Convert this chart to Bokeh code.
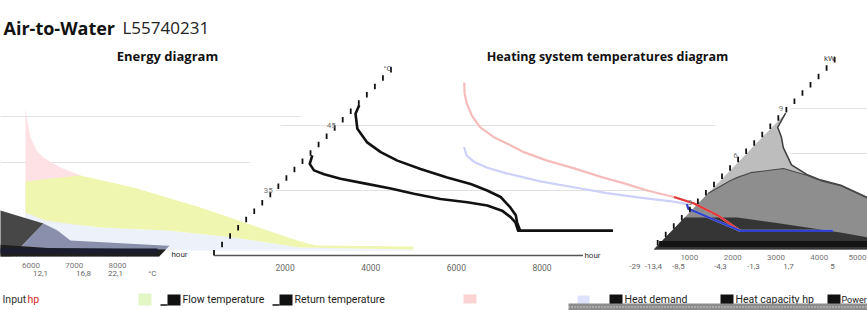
from bokeh.plotting import figure
from bokeh.models import Range1d
from bokeh.embed import file_html
from bokeh.resources import INLINE
from bokeh.core.properties import value

# ---------------- data ----------------
# Heating system temperatures diagram (sorted hours of the year, °C)
flow_hours = [0, 105, 486, 1023, 1560, 2140, 2871, 3684, 4380, 4912, 5375, 5835, 6139, 6330, 6594, 8760]
flow_temp = [48.1, 46.8, 44.5, 42.4, 40.9, 39.6, 38.3, 37.0, 36.0, 35.0, 34.0, 32.4, 31.2, 30.1, 28.8, 28.8]
return_hours = [35, 166, 411, 736, 1222, 1880, 2616, 3273, 4011, 4712, 5253, 5716, 6062, 6291, 6547, 8760]
return_temp = [40.4, 39.1, 38.1, 37.5, 36.8, 36.1, 35.3, 34.5, 33.7, 33.2, 32.7, 31.9, 30.9, 30.1, 28.8, 28.8]
hp_flow_hours = [0, 190, 402, 681, 1016, 1410, 1749, 2171, 2710, 3302, 3897, 4405, 4915, 5482, 5933, 6527, 7174]
hp_flow_temp = [51.6, 49.9, 48.3, 46.5, 44.7, 43.2, 42.2, 40.9, 39.6, 38.4, 37.1, 36.1, 35.0, 34.0, 33.0, 31.2, 28.8]
hp_return_hours = [1061, 1245, 1482, 1803, 2245, 2936, 3605, 4270, 4912, 5548, 5820, 5920, 7174, 8760]
hp_return_temp = [41.7, 40.4, 39.4, 38.5, 37.6, 36.4, 35.5, 34.6, 33.9, 33.3, 32.9, 32.2, 28.8, 28.8]

# Energy diagram (hours, kW)
input_hours = [0, 45, 113, 248, 406, 790, 1242]
input_kw = [9.13, 8.17, 7.21, 6.38, 5.93, 5.30, 4.79]
hp_top_hours = [0, 564, 1242, 2439, 3951, 5464, 6209, 6548, 8760]
hp_top_kw = [4.40, 4.59, 4.79, 4.02, 2.74, 1.28, 0.57, 0.32, 0.26]
hp_base_hours = [0, 452, 948, 1693, 3206, 4696, 6209, 8760]
hp_base_kw = [2.43, 1.91, 1.72, 1.47, 1.28, 0.83, 0.19, 0.06]

# Power diagram (hours, kW)
demand_hours = [0, 130, 425, 716, 1290, 1896, 2309, 2882, 3770, 4068, 4756, 5352, 5832, 6354, 8613, 8760]
demand_kw = [8.7, 7.8, 7.2, 6.5, 5.4, 4.75, 4.43, 4.1, 3.32, 2.94, 2.49, 2.11, 1.66, 1.02, 0.70, 0.68]
capacity_hours = [0, 231, 324, 522, 1187, 1896, 2309, 2882, 3770, 4068, 4756, 5352, 5832, 6354, 8613, 8760]
capacity_kw = [3.57, 4.4, 4.6, 4.9, 5.17, 4.72, 4.4, 4.08, 3.3, 2.94, 2.49, 2.11, 1.66, 1.02, 0.70, 0.68]
power_hours = [0, 1217, 2160, 3050, 3930, 4670, 6000, 8760]
power_kw = [2.04, 2.04, 1.72, 1.40, 1.08, 0.77, 0.55, 0.45]
baseline_kw = 0.35

# tick labels
temp_hour_ticks = [2000, 4000, 6000, 8000]
power_hour_ticks = [1000, 2000, 3000, 4000]
power_hour_last = 5000
power_hour_ticks_wrap = [6000, 7000, 8000]
outdoor_labels = ["-29", "-13,4", "-8,5", "-4,3", "-1,3", "1,7", "5"]
outdoor_hours = [-60, 372, 949, 1919, 2681, 3490, 4506]
outdoor_labels_wrap = ["12,1", "16,8", "22,1", "°C"]
outdoor_hours_wrap = [6400, 7393, 8132, 8986]
temp_axis_ticks = [35, 45]
power_axis_ticks = [3, 6, 9]

# ---------------- layout ----------------
W, H = 867, 310
SHEAR = 0.967
charts = {
    "E": dict(x0=25, kx=388 / 8760, y0=250, ky=15.67, yref=None),
    "T": dict(x0=199, kx=0.04281, y0=417.5, ky=6.5, yref=270),
    "H": dict(x0=282, kx=0.05845, y0=417.5, ky=6.5, yref=270),
    "P": dict(x0=633, kx=0.0433, y0=249, ky=15.67, yref=270),
    "PW": dict(x0=633 - 874, kx=0.0433, y0=256, ky=15.67, yref=277),
}

p = figure(width=W, height=H, x_range=Range1d(0, W), y_range=Range1d(H, 0),
           min_border=0, toolbar_location=None, output_backend="svg",
           x_axis_type=None, y_axis_type=None, title=None,
           outline_line_color=None, background_fill_color="white",
           border_fill_color="white")

p.extra_x_ranges = {n: Range1d(-c["x0"] / c["kx"], (W - c["x0"]) / c["kx"]) for n, c in charts.items()}
p.extra_y_ranges = {n: Range1d((c["y0"] - H) / c["ky"], c["y0"] / c["ky"]) for n, c in charts.items()}


def ypx(n, v):
    c = charts[n]
    return c["y0"] - v * c["ky"]


def sx(n, h, v):
    c = charts[n]
    if c["yref"] is None:
        return h
    return h + (c["yref"] - ypx(n, v)) * SHEAR / c["kx"]


def sx_px(n, h, y):
    c = charts[n]
    return h + (c["yref"] - y) * SHEAR / c["kx"]


def area(n, hours, vals, color, alpha=1.0):
    xs = [sx(n, h, v) for h, v in zip(hours, vals)]
    xb = [sx(n, h, 0) for h in hours][::-1]
    p.patch(x=xs + xb, y=list(vals) + [0] * len(hours), x_range_name=n, y_range_name=n,
            fill_color=color, fill_alpha=alpha, line_color=None)


def curve(n, hours, vals, color, width, alpha=1.0):
    p.line(x=[sx(n, h, v) for h, v in zip(hours, vals)], y=vals, x_range_name=n,
           y_range_name=n, line_color=color, line_width=width, line_alpha=alpha,
           line_join="round")


def txt(x, y, s, size="10.5px", color="#333", bold=False, align="left",
        baseline="middle", font="Roboto", xr="default"):
    p.text(x=[x], y=[y], text=[s], text_font=value(font), text_font_size=size,
           text_color=color, text_font_style="bold" if bold else "normal",
           text_align=align, text_baseline=baseline, x_range_name=xr)


# grid lines (pixel positions)
grid = [(0, 300, 116), (0, 250, 162), (280, 715, 125), (275, 650, 190), (790, 867, 108), (790, 867, 153)]
p.segment(x0=[g[0] for g in grid], x1=[g[1] for g in grid], y0=[g[2] for g in grid],
          y1=[g[2] for g in grid], line_color="#e2e2e2", line_width=1)

# energy diagram
p.varea(x=input_hours, y1=[0] * len(input_hours), y2=input_kw, x_range_name="E",
        y_range_name="E", fill_color="#fde1e4")
p.varea(x=hp_base_hours, y1=[0] * len(hp_base_hours), y2=hp_base_kw, x_range_name="E",
        y_range_name="E", fill_color="#edf2fa")
p.patch(x=hp_top_hours + hp_base_hours[::-1], y=hp_top_kw + hp_base_kw[::-1],
        x_range_name="E", y_range_name="E", fill_color="#eff6b0", line_color=None)

# power diagram (main)
area("P", demand_hours, demand_kw, "#bdbdbd")
area("P", capacity_hours, capacity_kw, "#8e8e8e")
area("P", power_hours, power_kw, "#353535")
curve("P", demand_hours, demand_kw, "#3c3c3c", 1.5)
curve("P", capacity_hours, capacity_kw, "#4a4a4a", 1.2)
p.line(x=[sx("P", 0, baseline_kw), sx("P", 8760, baseline_kw)], y=[baseline_kw, baseline_kw],
       x_range_name="P", y_range_name="P", line_color="#141414", line_width=6)

# power diagram (wrapped tail)
area("PW", capacity_hours[7:12], capacity_kw[7:12], "#474747")
area("PW", capacity_hours[11:], capacity_kw[11:], "#8a8fab")
area("PW", power_hours, power_kw, "#1e1e1e")
p.line(x=[sx("PW", 0, baseline_kw), sx("PW", 8600, baseline_kw)], y=[baseline_kw, baseline_kw],
       x_range_name="PW", y_range_name="PW", line_color="#1c1c30", line_width=5)

# temperature curves
curve("T", flow_hours, flow_temp, "#111111", 2.6)
curve("T", return_hours, return_temp, "#111111", 2.6)
curve("H", hp_flow_hours, hp_flow_temp, "#f6bcbc", 2.2)
curve("H", hp_flow_hours[13:], hp_flow_temp[13:], "#e03a3a", 2.2)
curve("H", hp_return_hours, hp_return_temp, "#cdd1f7", 2.2)
curve("H", hp_return_hours[10:], hp_return_temp[10:], "#3141cf", 2.2)


# sheared y axes drawn as staircases
def staircase(n, y_start, y_end):
    c = charts[n]
    steps = 22
    xs, y0s, y1s = [], [], []
    for k in range(steps + 1):
        y = y_start - k * (y_start - y_end) / steps
        xs.append(c["x0"] + (c["yref"] - y) * SHEAR)
        y0s.append(y)
        y1s.append(y - 5.5)
    p.segment(x0=xs, x1=xs, y0=y0s, y1=y1s, line_color="#111111", line_width=1.8)


staircase("T", 255, 72)
staircase("P", 245, 62)

# temperature x axis line
p.line(x=[sx_px("T", 0, 255), sx_px("T", 8620, 255)], y=[255, 255], x_range_name="T",
       line_color="#555555", line_width=1.5)

# axis tick labels
for t in temp_axis_ticks:
    y = ypx("T", t)
    txt(charts["T"]["x0"] + (270 - y) * SHEAR - 4, y, str(t), size="8px", color="#777", align="right")
txt(387, 68, "°C", size="8px", color="#555", align="center")
for t in power_axis_ticks:
    y = ypx("P", t)
    txt(charts["P"]["x0"] + (270 - y) * SHEAR - 7, y, str(t), size="8px", color="#777", align="right")
txt(829, 58, "kW", size="8px", color="#444", align="center")

p.text(x=temp_hour_ticks, y=[267] * len(temp_hour_ticks), text=[str(t) for t in temp_hour_ticks],
       x_range_name="T", text_font=value("Roboto"), text_font_size="8.5px", text_color="#666",
       text_align="center", text_baseline="middle")
p.text(x=[sx_px("P", h, 257) for h in power_hour_ticks], y=[257] * len(power_hour_ticks),
       text=[str(t) for t in power_hour_ticks], x_range_name="P", text_font=value("Roboto"),
       text_font_size="8px", text_color="#777", text_align="center", text_baseline="middle")
txt(W - 1, 257, str(power_hour_last), size="8px", color="#777", align="right")
p.text(x=[sx_px("PW", h, 265) for h in power_hour_ticks_wrap], y=[265] * len(power_hour_ticks_wrap),
       text=[str(t) for t in power_hour_ticks_wrap], x_range_name="PW", text_font=value("Roboto"),
       text_font_size="8px", text_color="#777", text_align="center", text_baseline="middle")
p.text(x=[sx_px("P", h, 266) for h in outdoor_hours], y=[266] * len(outdoor_hours),
       text=outdoor_labels, x_range_name="P", text_font=value("Roboto"),
       text_font_size="8px", text_color="#666", text_align="center", text_baseline="middle")
p.text(x=[sx_px("PW", h, 273) for h in outdoor_hours_wrap], y=[273] * len(outdoor_hours_wrap),
       text=outdoor_labels_wrap, x_range_name="PW", text_font=value("Roboto"),
       text_font_size="8px", text_color="#666", text_align="center", text_baseline="middle")
txt(179, 254, "hour", size="8px", color="#333", align="center")
txt(592, 255, "hour", size="8px", color="#333", align="center")

# titles
txt(3, 27, "Air-to-Water", size="18px", color="#111", bold=True, baseline="alphabetic", font="Open Sans")
txt(122, 27, "L55740231", size="17px", color="#222", baseline="alphabetic", font="Open Sans")
txt(167, 55, "Energy diagram", size="13px", color="#111", bold=True, align="center",
    baseline="alphabetic", font="Open Sans")
txt(607, 56, "Heating system temperatures diagram", size="12.5px", color="#111", bold=True,
    align="center", baseline="alphabetic", font="Open Sans")

# legend
txt(2, 299, "Input", size="10.5px", color="#333")
txt(27, 299, "hp", size="10.5px", color="#cc1f1f")
p.quad(left=[138, 463, 577], right=[151, 476, 589], top=[293, 294, 295], bottom=[305, 303, 304],
       fill_color=["#e2f5c4", "#fbd3d3", "#dfe2fb"], line_color=None)
sw = [167, 279, 609, 720, 827]
p.quad(left=sw, right=[s + 13 for s in sw], top=[294] * 5, bottom=[305] * 5,
       fill_color="#111111", line_color=None)
p.segment(x0=[s - 7 for s in sw], x1=sw, y0=[304.5] * 5, y1=[304.5] * 5,
          line_color="#111111", line_width=1.5)
for s, lab in zip(sw[:4], ["Flow temperature", "Return temperature", "Heat demand", "Heat capacity hp"]):
    txt(s + 15, 299, lab, size="10.5px", color="#222")
txt(sw[4] + 14, 299, "Power", size="9px", color="#222")

# bottom strip
p.quad(left=[568], right=[867], top=[303], bottom=[310], fill_color="#8c8c8c", line_color=None)
p.line(x=[568, 867], y=[306.5, 306.5], line_color="white", line_width=1, line_dash="1 2")

open("out.html", "w").write(file_html(p, INLINE))
